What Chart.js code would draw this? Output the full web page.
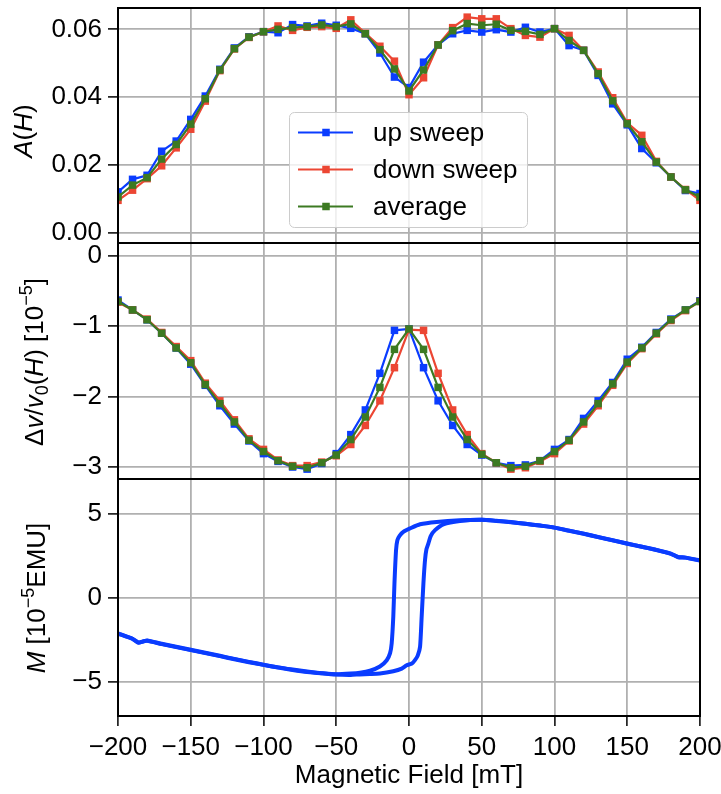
<!DOCTYPE html>
<html>
<head>
<meta charset="utf-8">
<script src="https://cdn.jsdelivr.net/npm/chart.js@4.4.1/dist/chart.umd.min.js"></script>
<style>
  body { margin: 0; background: #fff; }
  #wrap { position: relative; width: 721px; height: 794px; font-family: "Liberation Sans", Arial, sans-serif; }
  canvas { position: absolute; left: 0; }
  .ylab { position: absolute; font-size: 26px; white-space: nowrap; line-height: 1; transform: translate(-50%, -50%) rotate(-90deg); }
  .ylab sub, .ylab sup { font-size: 18px; line-height: 0; }
  .ylab sub { vertical-align: -5px; }
  .ylab sup { vertical-align: 11px; }
</style>
</head>
<body>
<div id="wrap">
  <canvas id="c1" width="721" height="250" style="top:0px"></canvas>
  <canvas id="c2" width="721" height="250" style="top:236px"></canvas>
  <canvas id="c3" width="721" height="322" style="top:472px"></canvas>
  <div class="ylab" style="left:23px;top:131px"><i>A</i>(<i>H</i>)</div>
  <div class="ylab" style="left:34px;top:362px">Δ<i>v</i>/<i>v</i><sub>0</sub>(<i>H</i>) [10<sup>−5</sup>]</div>
  <div class="ylab" style="left:36px;top:598px"><i>M</i> [10<sup>−5</sup>EMU]</div>
</div>
<script>
  // field values of the two sweeps [mT]
  var field = [-200, -190, -180, -170, -160, -150, -140, -130, -120, -110, -100, -90, -80, -70, -60, -50, -40, -30, -20, -10,
               0, 10, 20, 30, 40, 50, 60, 70, 80, 90, 100, 110, 120, 130, 140, 150, 160, 170, 180, 190, 200];

  // A(H)
  var aUp = [0.0120, 0.0157, 0.0169, 0.0240, 0.0270, 0.0334, 0.0403, 0.0482, 0.0545, 0.0578, 0.0593, 0.0590, 0.0614, 0.0610,
             0.0618, 0.0612, 0.0603, 0.0587, 0.0530, 0.0459, 0.0428, 0.0503, 0.0554, 0.0587, 0.0597, 0.0592, 0.0599, 0.0592,
             0.0606, 0.0592, 0.0602, 0.0552, 0.0538, 0.0464, 0.0380, 0.0318, 0.0248, 0.0206, 0.0164, 0.0124, 0.0115];
  var aDown = [0.0095, 0.0125, 0.0159, 0.0197, 0.0250, 0.0305, 0.0388, 0.0478, 0.0542, 0.0576, 0.0593, 0.0610, 0.0597, 0.0606,
               0.0608, 0.0603, 0.0628, 0.0588, 0.0550, 0.0506, 0.0407, 0.0457, 0.0554, 0.0605, 0.0636, 0.0631, 0.0631, 0.0602,
               0.0582, 0.0577, 0.0602, 0.0582, 0.0538, 0.0474, 0.0398, 0.0324, 0.0287, 0.0210, 0.0164, 0.0127, 0.0095];
  var aAvg = [0.0105, 0.0140, 0.0162, 0.0217, 0.0260, 0.0320, 0.0395, 0.0480, 0.0543, 0.0577, 0.0593, 0.0600, 0.0605, 0.0608,
              0.0613, 0.0608, 0.0616, 0.0587, 0.0540, 0.0483, 0.0418, 0.0480, 0.0554, 0.0596, 0.0617, 0.0612, 0.0615, 0.0597,
              0.0594, 0.0585, 0.0602, 0.0567, 0.0538, 0.0469, 0.0389, 0.0321, 0.0268, 0.0208, 0.0164, 0.0126, 0.0105];

  // dv/v0(H) in 1e-5
  var dvUp = [-0.63, -0.77, -0.91, -1.10, -1.31, -1.54, -1.84, -2.13, -2.39, -2.63, -2.81, -2.92, -3.00, -3.03, -2.95, -2.81,
              -2.54, -2.19, -1.67, -1.06, -1.04, -1.59, -2.06, -2.41, -2.68, -2.83, -2.94, -2.98, -2.97, -2.91, -2.75, -2.61,
              -2.31, -2.06, -1.80, -1.47, -1.30, -1.09, -0.90, -0.77, -0.64];
  var dvDown = [-0.66, -0.77, -0.90, -1.09, -1.29, -1.49, -1.81, -2.06, -2.33, -2.60, -2.75, -2.90, -2.98, -2.98, -2.93, -2.84,
                -2.68, -2.41, -2.06, -1.59, -1.05, -1.06, -1.67, -2.19, -2.54, -2.81, -2.94, -3.03, -3.01, -2.92, -2.81, -2.63,
                -2.39, -2.13, -1.84, -1.53, -1.32, -1.11, -0.92, -0.78, -0.65];
  var dvAvg = [-0.65, -0.77, -0.91, -1.10, -1.31, -1.52, -1.83, -2.10, -2.36, -2.62, -2.78, -2.91, -2.99, -3.01, -2.94, -2.83,
               -2.61, -2.29, -1.87, -1.33, -1.04, -1.33, -1.87, -2.29, -2.61, -2.82, -2.94, -3.01, -2.99, -2.91, -2.78, -2.62,
               -2.36, -2.10, -1.82, -1.51, -1.31, -1.10, -0.91, -0.77, -0.65];

  // magnetisation loop, 1e-5 EMU
  var mDownField = [200, 190, 185, 180, 170, 160, 150, 140, 130, 120, 110, 100, 90, 80, 70, 60, 50, 35, 19, 7.6, 0.7, -3.9, -6.5,
                    -8, -8.9, -10, -10.8, -11.9, -13, -15.3, -20, -26.8, -33.7, -40, -50, -60, -70, -80, -90, -100, -110, -120,
                    -130, -140, -150, -160, -170, -180, -183, -186, -190, -200];
  var mDownVal = [2.24, 2.40, 2.42, 2.64, 2.85, 3.05, 3.23, 3.43, 3.62, 3.82, 4.00, 4.19, 4.31, 4.42, 4.52, 4.60, 4.66, 4.63, 4.53,
                  4.39, 4.14, 3.94, 3.70, 3.44, 2.84, 0.85, -1.13, -2.72, -3.30, -3.72, -4.10, -4.35, -4.47, -4.52, -4.56, -4.50,
                  -4.42, -4.30, -4.16, -4.00, -3.84, -3.66, -3.48, -3.30, -3.12, -2.94, -2.76, -2.56, -2.60, -2.68, -2.45, -2.14];
  var mUpField = [-200, -190, -186, -183, -180, -170, -160, -150, -140, -130, -120, -110, -100, -90, -80, -70, -60, -50, -40, -34,
                  -27, -20, -10.8, -5, -1.6, 2, 4.1, 6, 7.6, 8.7, 9.9, 11, 12, 13.3, 15, 17.9, 23.6, 35, 50, 60, 70, 80, 90, 100,
                  110, 120, 130, 140, 150, 160, 170, 180, 185, 190, 200];
  var mUpVal = [-2.12, -2.44, -2.66, -2.62, -2.54, -2.74, -2.92, -3.10, -3.28, -3.46, -3.64, -3.82, -3.99, -4.15, -4.28, -4.40,
                -4.50, -4.58, -4.60, -4.57, -4.55, -4.52, -4.38, -4.22, -4.02, -3.92, -3.72, -3.45, -2.92, -1.13, 0.85, 2.25,
                2.90, 3.24, 3.70, 4.04, 4.39, 4.59, 4.66, 4.59, 4.51, 4.42, 4.31, 4.19, 4.01, 3.83, 3.63, 3.44, 3.24, 3.05, 2.86,
                2.62, 2.44, 2.40, 2.22];

  var xTicks = [-200, -150, -100, -50, 0, 50, 100, 150, 200];
  var aTicks = [0, 0.02, 0.04, 0.06];
  var dvTicks = [-3, -2, -1, 0];
  var mTicks = [-5, 0, 5];

  var seriesNames = ['up sweep', 'down sweep', 'average'];
  var colors = ['#0a3cff', '#ec4633', '#3c7a22'];
  var gridColor = '#b0b0b0';

  Chart.defaults.font.family = '"Liberation Sans", Arial, sans-serif';
  Chart.defaults.font.size = 26;
  Chart.defaults.color = '#000';
  Chart.defaults.animation = false;

  var minus = v => (v < 0 ? '\u2212' : '') + Math.abs(v);

  var frame = {
    id: 'frame',
    afterDraw(chart) {
      var a = chart.chartArea, ctx = chart.ctx;
      ctx.save();
      ctx.strokeStyle = '#000';
      ctx.lineWidth = 2;
      ctx.strokeRect(a.left, a.top, a.right - a.left, a.bottom - a.top);
      ctx.restore();
    }
  };

  // matplotlib-like legend sitting inside the top panel
  var legendBox = {
    id: 'legendBox',
    afterDraw(chart) {
      var ctx = chart.ctx;
      var x = 289.5, y = 112.5, w = 238, h = 115, r = 5;
      ctx.save();
      ctx.beginPath();
      ctx.roundRect(x, y, w, h, r);
      ctx.fillStyle = 'rgba(255,255,255,0.8)';
      ctx.fill();
      ctx.strokeStyle = '#cccccc';
      ctx.lineWidth = 1;
      ctx.stroke();
      ctx.font = '26px "Liberation Sans", Arial, sans-serif';
      ctx.textBaseline = 'middle';
      seriesNames.forEach((name, i) => {
        var yy = 132.5 + i * 37;
        ctx.strokeStyle = colors[i];
        ctx.lineWidth = 2.2;
        ctx.beginPath();
        ctx.moveTo(298, yy);
        ctx.lineTo(353, yy);
        ctx.stroke();
        ctx.fillStyle = colors[i];
        ctx.fillRect(326 - 3.75, yy - 3.75, 7.5, 7.5);
        ctx.fillStyle = '#000';
        ctx.fillText(name, 373, yy + 1);
      });
      ctx.restore();
    }
  };

  var xScale = showLabels => ({
    type: 'linear', min: -200, max: 200,
    afterBuildTicks: s => { s.ticks = xTicks.map(v => ({value: v})); },
    grid: {color: gridColor, lineWidth: 1.8, drawTicks: showLabels, tickLength: 10, tickColor: '#000', tickWidth: 1.5},
    border: {display: false},
    ticks: {display: showLabels, padding: 6, maxRotation: 0, autoSkip: false, callback: v => minus(v)},
    title: {display: showLabels, text: 'Magnetic Field [mT]', padding: {top: 0, bottom: 3}},
    afterFit: s => { s.height = showLabels ? 78 : 0; s.paddingLeft = 0; s.paddingRight = 0; }
  });

  var yScale = (min, max, ticks, fmt) => ({
    min: min, max: max,
    afterBuildTicks: s => { s.ticks = ticks.map(v => ({value: v})); },
    grid: {color: gridColor, lineWidth: 1.8, tickLength: 10, tickColor: '#000', tickWidth: 1.5},
    border: {display: false},
    ticks: {padding: 6, callback: fmt},
    afterFit: s => { s.width = 118; s.paddingTop = 0; s.paddingBottom = 0; }
  });

  var sweep = (vals, i, order) => ({
    label: seriesNames[i],
    data: field.map((f, k) => ({x: f, y: vals[k]})),
    borderColor: colors[i], backgroundColor: colors[i],
    borderWidth: 2.2, pointStyle: 'rect', pointRadius: 5.3, pointHoverRadius: 5.3, pointBorderWidth: 0,
    order: order, clip: 0
  });

  var loop = (xs, ys) => ({
    data: xs.map((f, k) => ({x: f, y: ys[k]})),
    borderColor: colors[0], borderWidth: 4, pointRadius: 0, tension: 0.2, clip: 0
  });

  var baseOpts = (pad, yOpts, showX) => ({
    responsive: false,
    animation: false,
    layout: {padding: pad},
    plugins: {legend: {display: false}, tooltip: {enabled: false}},
    scales: {x: xScale(showX), y: yOpts}
  });

  new Chart('c1', {
    type: 'line',
    data: {datasets: [sweep(aUp, 0, 3), sweep(aDown, 1, 2), sweep(aAvg, 2, 1)]},
    options: baseOpts({top: 8, bottom: 7, left: 0, right: 21},
      yScale(-0.0031, 0.0663, aTicks, v => v.toFixed(2)), false),
    plugins: [frame, legendBox]
  });

  new Chart('c2', {
    type: 'line',
    data: {datasets: [sweep(dvUp, 0, 3), sweep(dvDown, 1, 2), sweep(dvAvg, 2, 1)]},
    options: baseOpts({top: 7, bottom: 7, left: 0, right: 21},
      yScale(-3.17, 0.18, dvTicks, v => minus(v)), false),
    plugins: [frame]
  });

  new Chart('c3', {
    type: 'line',
    data: {datasets: [loop(mDownField, mDownVal), loop(mUpField, mUpVal)]},
    options: baseOpts({top: 7, bottom: 0, left: 0, right: 21},
      yScale(-7.05, 7.09, mTicks, v => minus(v)), true),
    plugins: [frame]
  });
</script>
</body>
</html>
